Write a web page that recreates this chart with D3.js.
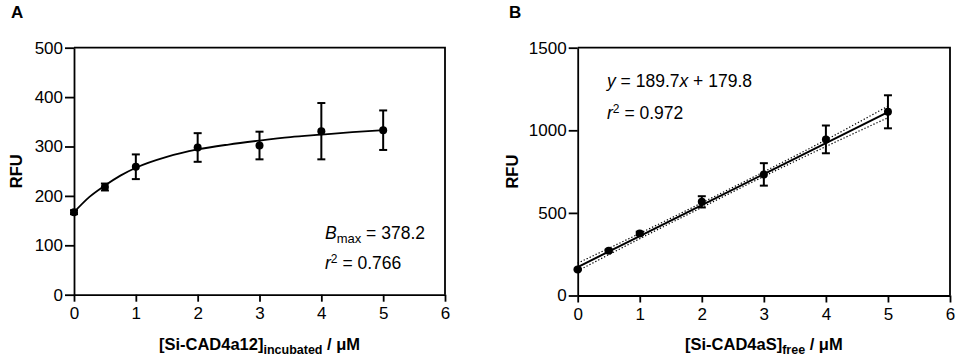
<!DOCTYPE html>
<html>
<head>
<meta charset="utf-8">
<script src="https://cdn.jsdelivr.net/npm/d3@7"></script>
<style>
  body { margin: 0; background: #fff; }
  text { font-family: "Liberation Sans", Arial, sans-serif; }
</style>
</head>
<body>
<svg id="chart" width="957" height="359"></svg>
<script>
// ---- data ----
var concA = [0, 0.5, 1, 2, 3, 4, 5];
var rfuA = [167, 218, 259, 298, 302, 331, 333];
var errA = [4, 7, 25, 29, 28, 57, 40];
// fitted one-site curve
var curveXA = [0, 0.25, 0.5, 0.75, 1, 1.5, 2, 2.5, 3, 3.5, 4, 4.5, 5];
var curveYA = [167, 198, 221, 241, 257, 279, 294, 304, 312, 319, 324, 329, 333];

var concB = [0, 0.5, 1, 2, 3, 4, 5];
var rfuB = [158, 271, 376, 567, 733, 945, 1112];
var errB = [5, 8, 10, 34, 68, 84, 100];
// regression line and 95% bands
var fitXB = [0, 1, 2, 3, 4, 5];
var fitYB = [172, 360, 547, 735, 922, 1110];
var upperB = [196, 376, 561, 749, 942, 1146];
var lowerB = [149, 344, 533, 721, 902, 1076];

var xTicks = [0, 1, 2, 3, 4, 5, 6];
var yTicksA = [0, 100, 200, 300, 400, 500];
var yTicksB = [0, 500, 1000, 1500];

var svg = d3.select("#chart");

function panel(opt) {
  var x = d3.scaleLinear().domain([0, 6]).range([opt.left, opt.right]);
  var y = d3.scaleLinear().domain([0, opt.ymax]).range([opt.bottom, opt.top]);
  var g = svg.append("g");

  // frame top / right
  g.append("path")
    .attr("d", "M" + opt.left + "," + opt.top + "H" + opt.right + "V" + opt.bottom)
    .attr("fill", "none").attr("stroke", "#000").attr("stroke-width", 1.8);

  var xa = g.append("g")
    .attr("transform", "translate(0," + opt.bottom + ")")
    .call(d3.axisBottom(x).tickValues(xTicks).tickFormat(d3.format("d"))
      .tickSize(7).tickSizeOuter(0).tickPadding(5));
  var ya = g.append("g")
    .attr("transform", "translate(" + opt.left + ",0)")
    .call(d3.axisLeft(y).tickValues(opt.yticks).tickFormat(d3.format("d"))
      .tickSize(9).tickSizeOuter(0).tickPadding(2));
  [xa, ya].forEach(function(a) {
    a.selectAll("path, line").attr("stroke", "#000").attr("stroke-width", 1.8);
    a.selectAll("text").attr("fill", "#000").style("font-size", "17px")
      .style("font-family", "'Liberation Sans', Arial, sans-serif");
  });

  // labels
  g.append("text").text(opt.letter)
    .attr("x", opt.letterX).attr("y", 18)
    .style("font-size", "17px").style("font-weight", "bold");

  g.append("text").text("RFU")
    .attr("text-anchor", "middle")
    .attr("transform", "translate(" + opt.yLabelX + "," + ((opt.top + opt.bottom) / 2) + ") rotate(-90)")
    .style("font-size", "16.5px").style("font-weight", "bold");

  var xt = g.append("text")
    .attr("x", (opt.left + opt.right) / 2).attr("y", 350)
    .attr("text-anchor", "middle")
    .style("font-size", "16.5px").style("font-weight", "bold");
  xt.append("tspan").text(opt.xName);
  xt.append("tspan").text(opt.xSub).attr("dy", 4).style("font-size", "12.5px");
  xt.append("tspan").text(" / μM").attr("dy", -4);

  var line = d3.line()
    .x(function(d) { return x(d[0]); })
    .y(function(d) { return y(d[1]); });

  return { g: g, x: x, y: y, line: line };
}

function points(p, xs, ys, es) {
  var pts = xs.map(function(v, i) { return { x: v, y: ys[i], e: es[i] }; });
  var bars = p.g.append("g").selectAll("g").data(pts).enter().append("g")
    .attr("stroke", "#000").attr("stroke-width", 2);
  bars.append("line")
    .attr("x1", function(d) { return p.x(d.x); })
    .attr("x2", function(d) { return p.x(d.x); })
    .attr("y1", function(d) { return p.y(d.y + d.e); })
    .attr("y2", function(d) { return p.y(d.y - d.e); });
  [1, -1].forEach(function(s) {
    bars.append("line")
      .attr("x1", function(d) { return p.x(d.x) - 4; })
      .attr("x2", function(d) { return p.x(d.x) + 4; })
      .attr("y1", function(d) { return p.y(d.y + s * d.e); })
      .attr("y2", function(d) { return p.y(d.y + s * d.e); });
  });
  p.g.append("g").selectAll("circle").data(pts).enter().append("circle")
    .attr("cx", function(d) { return p.x(d.x); })
    .attr("cy", function(d) { return p.y(d.y); })
    .attr("r", 4).attr("fill", "#000");
}

// ---- panel A ----
var pa = panel({
  left: 74, right: 445, top: 47.7, bottom: 294.7, ymax: 500, yticks: yTicksA,
  letter: "A", letterX: 11, yLabelX: 22, xName: "[Si-CAD4a12]", xSub: "incubated"
});
pa.g.append("path")
  .datum(curveXA.map(function(v, i) { return [v, curveYA[i]]; }))
  .attr("d", pa.line.curve(d3.curveMonotoneX))
  .attr("fill", "none").attr("stroke", "#000").attr("stroke-width", 1.8);
points(pa, concA, rfuA, errA);

var tA1 = pa.g.append("text").attr("x", 325).attr("y", 239).style("font-size", "17.5px");
tA1.append("tspan").text("B").style("font-style", "italic");
tA1.append("tspan").text("max").attr("dy", 4).style("font-size", "13px");
tA1.append("tspan").text(" = 378.2").attr("dy", -4);
var tA2 = pa.g.append("text").attr("x", 325).attr("y", 269).style("font-size", "17.5px");
tA2.append("tspan").text("r").style("font-style", "italic");
tA2.append("tspan").text("2").attr("dy", -6).style("font-size", "12px");
tA2.append("tspan").text(" = 0.766").attr("dy", 6);

// ---- panel B ----
var pb = panel({
  left: 577.7, right: 950, top: 47.7, bottom: 295.5, ymax: 1500, yticks: yTicksB,
  letter: "B", letterX: 509, yLabelX: 518, xName: "[Si-CAD4aS]", xSub: "free"
});
[upperB, lowerB].forEach(function(band) {
  pb.g.append("path")
    .datum(fitXB.map(function(v, i) { return [v, band[i]]; }))
    .attr("d", pb.line.curve(d3.curveMonotoneX))
    .attr("fill", "none").attr("stroke", "#000").attr("stroke-width", 1.2)
    .attr("stroke-dasharray", "1.3,2");
});
pb.g.append("path")
  .datum(fitXB.map(function(v, i) { return [v, fitYB[i]]; }))
  .attr("d", pb.line.curve(d3.curveLinear))
  .attr("fill", "none").attr("stroke", "#000").attr("stroke-width", 2);
points(pb, concB, rfuB, errB);

var tB1 = pb.g.append("text").attr("x", 607).attr("y", 87).style("font-size", "17.5px");
tB1.append("tspan").text("y").style("font-style", "italic");
tB1.append("tspan").text(" = 189.7");
tB1.append("tspan").text("x").style("font-style", "italic");
tB1.append("tspan").text(" + 179.8");
var tB2 = pb.g.append("text").attr("x", 607).attr("y", 119).style("font-size", "17.5px");
tB2.append("tspan").text("r").style("font-style", "italic");
tB2.append("tspan").text("2").attr("dy", -6).style("font-size", "12px");
tB2.append("tspan").text(" = 0.972").attr("dy", 6);
</script>
</body>
</html>
